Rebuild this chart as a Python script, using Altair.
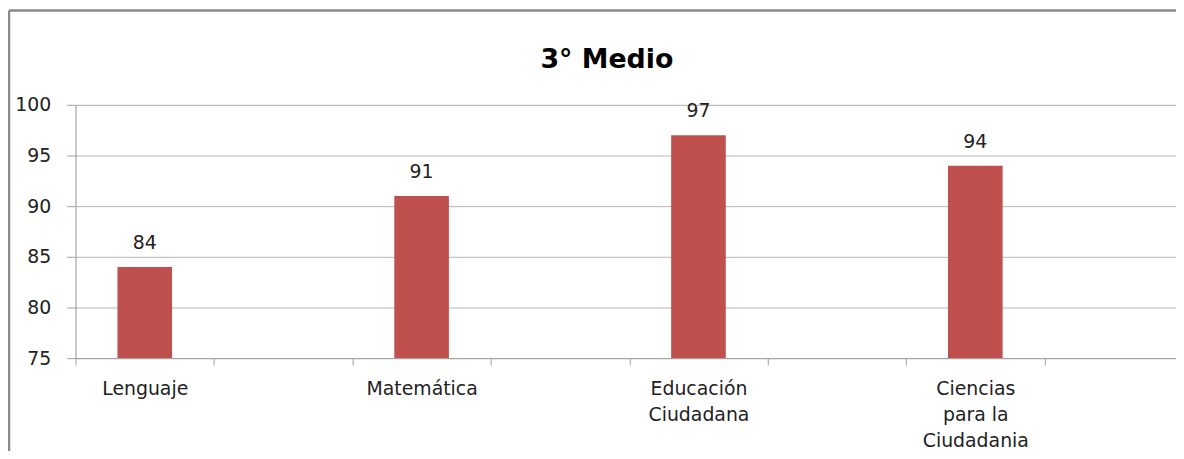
import altair as alt
import pandas as pd

categories = ["Lenguaje", "Matemática", "Educación\nCiudadana", "Ciencias\npara la\nCiudadania"]
values = [84, 91, 97, 94]
blank_slots = [" ", "  ", "   ", "    "]
y_ticks = [75, 80, 85, 90, 95, 100]
title_text = "3° Medio"

domain = []
for c, b in zip(categories, blank_slots):
    domain += [c, b]

df = pd.DataFrame({"cat": categories, "val": values})

FONT = "DejaVu Sans"
BAR = "#C0504D"

x_scale = alt.Scale(domain=domain, range=[0, 1115], paddingInner=0, paddingOuter=0)

x_enc = alt.X(
    "cat:N",
    sort=domain,
    scale=x_scale,
    axis=alt.Axis(
        title=None,
        labelAngle=0,
        tickBand="extent",
        tickSize=7,
        tickColor="#a0a0a0",
        domainColor="#a0a0a0",
        labelPadding=15,
        labelFont=FONT,
        labelFontSize=19,
        labelColor="#222222",
        labelLineHeight=26,
        labelBaseline="top",
        labelExpr="split(datum.label, '\\n')",
        grid=False,
    ),
)
y_enc = alt.Y(
    "val:Q",
    scale=alt.Scale(domain=[75, 100], nice=False, zero=False),
    axis=alt.Axis(
        title=None,
        values=y_ticks,
        tickSize=9,
        tickColor="#a0a0a0",
        domainColor="#a0a0a0",
        gridColor="#b4b4b4",
        labelPadding=16,
        labelFont=FONT,
        labelFontSize=19,
        labelColor="#222222",
    ),
)

bars = alt.Chart(df).mark_bar(color=BAR, size=55, clip=True).encode(
    x=x_enc, y=y_enc, y2=alt.datum(75)
)
labels = alt.Chart(df).mark_text(
    dy=-14, baseline="bottom", font=FONT, fontSize=19, color="#222222"
).encode(x=alt.X("cat:N", sort=domain, scale=x_scale), y="val:Q", text="val:Q")

frame_data = alt.Data(values=[{"k": 0}])
frame_left = alt.Chart(frame_data).mark_rule(color="#8a8a8a", strokeWidth=2.5).encode(
    x=alt.value(-67), y=alt.value(-95), y2=alt.value(400)
)
frame_top = alt.Chart(frame_data).mark_rule(color="#8a8a8a", strokeWidth=2.5).encode(
    y=alt.value(-95), x=alt.value(-67), x2=alt.value(1200)
)

chart = (
    alt.layer(frame_left, frame_top, bars, labels)
    .properties(
        width=1108,
        height=255,
        autosize=alt.AutoSizeParams(type="none"),
        padding={"left": 68, "top": 96, "right": 0, "bottom": 92},
        title=alt.TitleParams(
            text=title_text,
            font=FONT,
            fontSize=27,
            fontWeight="bold",
            color="#000000",
            anchor="middle",
            dx=-19,
            dy=65,
            offset=0,
        ),
    )
    .configure_view(stroke=None)
    .configure(background="white")
)

chart.save("out.html", embed_options={"renderer": "svg", "actions": False})
